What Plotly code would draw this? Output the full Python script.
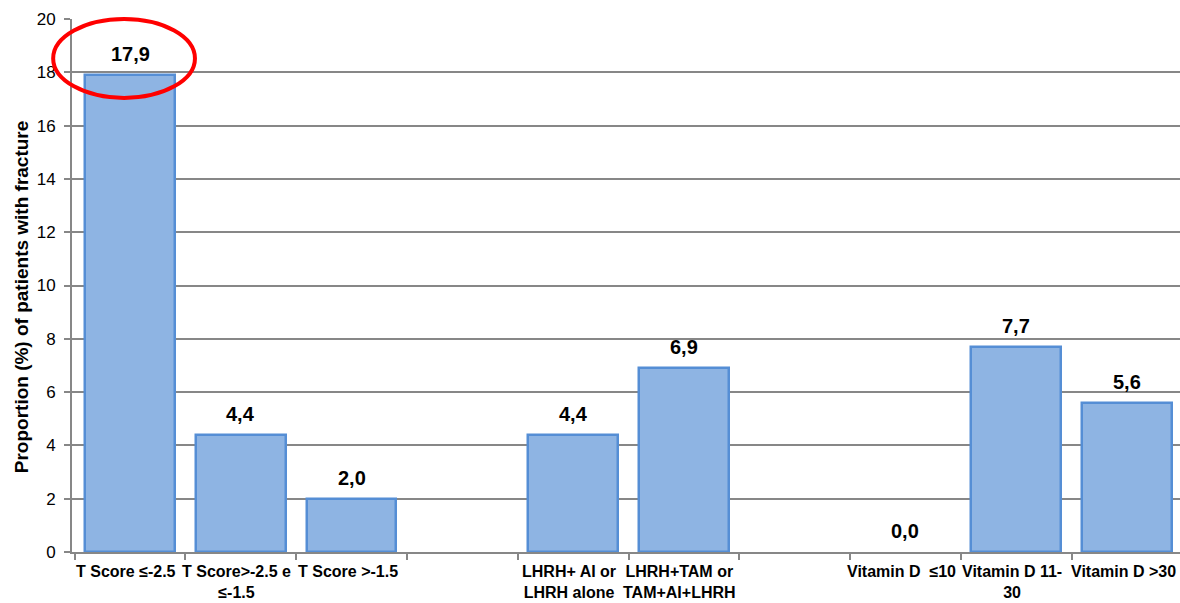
import plotly.graph_objects as go

# Fracture proportion by subgroup (blank slots separate the three groups)
categories = [
    "T Score ≤-2.5", "T Score>-2.5 e<br>≤-1.5", "T Score >-1.5", "",
    "LHRH+ AI or<br>LHRH alone", "LHRH+TAM or<br>TAM+AI+LHRH", "",
    "Vitamin D \u00a0≤10", "Vitamin D 11-<br>30", "Vitamin D >30",
]
values = [17.9, 4.4, 2.0, None, 4.4, 6.9, None, 0.0, 7.7, 5.6]
y_ticks = [0, 2, 4, 6, 8, 10, 12, 14, 16, 18, 20]
y_title = "Proportion (%) of patients with fracture"

positions = list(range(len(categories)))
X_RANGE = [-0.524, 9.478]
Y_RANGE = [0, 20]

GRID = "#878787"
FILL = "#8EB4E3"
EDGE = "#558ED5"
FONT = "Liberation Sans, Arial, sans-serif"

# zero-height bars get no outline
edge_widths = [0 if (v is None or v == 0) else 2.5 for v in values]

fig = go.Figure()
fig.add_trace(go.Bar(
    x=positions, y=values, width=0.81,
    marker=dict(color=FILL, line=dict(color=EDGE, width=edge_widths)),
    hoverinfo="skip",
))

# value labels above each bar (decimal comma)
for p, v in zip(positions, values):
    if v is None:
        continue
    fig.add_annotation(
        x=p, y=v, xref="x", yref="y", yanchor="bottom", yshift=8,
        text="<b>" + f"{v:.1f}".replace(".", ",") + "</b>",
        showarrow=False, font=dict(family=FONT, size=20, color="#000000"),
    )

# category labels under the axis
for p, c in zip(positions, categories):
    if not c:
        continue
    fig.add_annotation(
        x=p, y=0, xref="x", yref="paper", yanchor="top", yshift=-9, xshift=-4,
        text="<b>" + c + "</b>", showarrow=False, align="center",
        font=dict(family=FONT, size=16, color="#000000"),
    )

# y-axis title
fig.add_annotation(
    x=0, y=0.478, xref="paper", yref="paper", xshift=-51,
    xanchor="center", yanchor="middle", textangle=-90,
    text="<b>" + y_title + "</b>", showarrow=False,
    font=dict(family=FONT, size=19, color="#000000"),
)

# red ellipse highlighting the first bar's value
cx, cy, rx, ry = positions[0] - 0.054, values[0] + 0.62, 0.64, 1.48
def fx(v):
    return (v - X_RANGE[0]) / (X_RANGE[1] - X_RANGE[0])
def fy(v):
    return (v - Y_RANGE[0]) / (Y_RANGE[1] - Y_RANGE[0])
fig.add_shape(
    type="circle", xref="x domain", yref="y domain",
    x0=fx(cx - rx), x1=fx(cx + rx), y0=fy(cy - ry), y1=fy(cy + ry),
    line=dict(color="#FF0000", width=4), layer="above",
)

fig.update_layout(
    width=1180, height=603,
    margin=dict(l=72, r=0, t=19, b=51),
    paper_bgcolor="white", plot_bgcolor="white",
    showlegend=False, bargap=0,
    font=dict(family=FONT, color="#000000"),
    xaxis=dict(
        range=X_RANGE, tickvals=[i - 0.5 for i in range(len(categories) + 1)],
        ticktext=[""] * (len(categories) + 1),
        ticks="outside", ticklen=6, tickwidth=2, tickcolor=GRID,
        showline=True, linecolor=GRID, linewidth=2,
        showgrid=False, zeroline=False, fixedrange=True,
    ),
    yaxis=dict(
        range=Y_RANGE, tickvals=y_ticks,
        ticks="outside", ticklen=6, tickwidth=2, tickcolor=GRID,
        ticklabelstandoff=5,
        showline=True, linecolor=GRID, linewidth=2,
        showgrid=True, gridcolor=GRID, gridwidth=2, zeroline=False,
        tickfont=dict(family=FONT, size=17, color="#000000"),
        fixedrange=True,
    ),
)

fig.write_html("out.html")
